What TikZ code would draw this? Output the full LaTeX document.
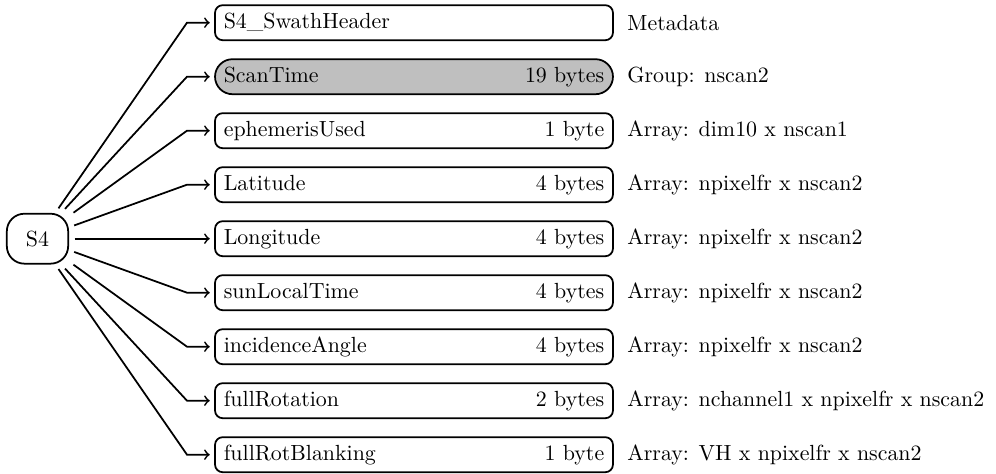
\documentclass[tikz,border=0pt]{standalone}
\usetikzlibrary{positioning}
\begin{document}
\begin{tikzpicture}[x=0.4566pt,y=-0.4566pt,
  rootbox/.style={draw,thick,rounded corners=8pt,minimum width=28pt,minimum height=22.8pt,inner sep=0pt},
  fieldbox/.style={draw,thick,rounded corners=3.5pt,text width=173.7pt,inner xsep=4pt,inner ysep=0pt,minimum height=16pt},
  groupbox/.style={fieldbox,rounded corners=8pt,fill=gray!50},
  note/.style={anchor=west,inner sep=0pt},
  link/.style={thick,->,shorten <=2.5pt,shorten >=2pt}]
\useasboundingbox (0,0) rectangle (996,474);

\node[rootbox] (s4) at (37.5,238.7) {S4};

% one row per field: box, description and the bend of its connector
\foreach \i/\name/\size/\desc/\sty in {
  1/S4\_SwathHeader//Metadata/fieldbox,
  2/ScanTime/19 bytes/Group: nscan2/groupbox,
  3/ephemerisUsed/1 byte/Array: dim10 x nscan1/fieldbox,
  4/Latitude/4 bytes/Array: npixelfr x nscan2/fieldbox,
  5/Longitude/4 bytes/Array: npixelfr x nscan2/fieldbox,
  6/sunLocalTime/4 bytes/Array: npixelfr x nscan2/fieldbox,
  7/incidenceAngle/4 bytes/Array: npixelfr x nscan2/fieldbox,
  8/fullRotation/2 bytes/Array: nchannel1 x npixelfr x nscan2/fieldbox,
  9/fullRotBlanking/1 byte/Array: VH x npixelfr x nscan2/fieldbox}{
  \pgfmathsetmacro{\yy}{22.7+54*(\i-1)}
  \node[\sty] (b\i) at (414,\yy) {\name\hfill\size};
  \node[note] (d\i) at (627,\yy) {\desc};
  \coordinate (c\i) at (187,\yy);
  \draw[link] (s4) -- (c\i) -- (b\i.west);
}
\end{tikzpicture}
\end{document}
